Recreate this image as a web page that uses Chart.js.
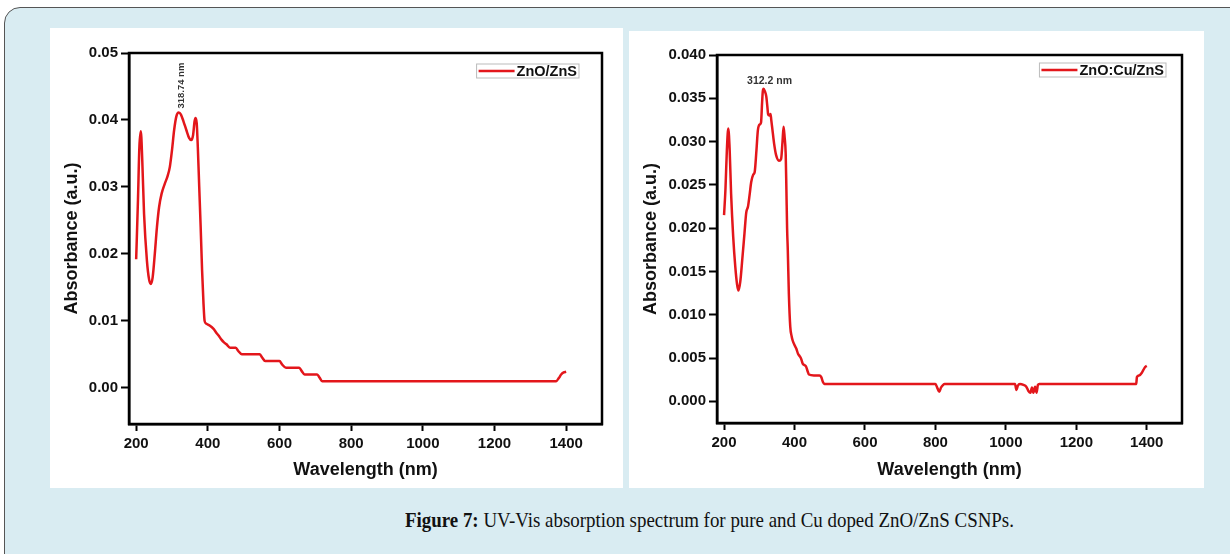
<!DOCTYPE html>
<html>
<head>
<meta charset="utf-8">
<script src="https://cdn.jsdelivr.net/npm/chart.js@4.4.1/dist/chart.umd.min.js"></script>
<style>
  body { margin: 0; width: 1230px; height: 554px; background: #fff; overflow: hidden; position: relative; }
  .frame { position: absolute; left: 4px; top: 7px; width: 1300px; height: 600px; background: #d9ecf2;
           border: 1.5px solid #555; border-radius: 16px; }
  .panel { position: absolute; background: #fff; }
  .caption { position: absolute; left: 405px; top: 508px; white-space: nowrap;
             font-family: "Liberation Serif", "DejaVu Serif", serif; font-size: 21px; color: #111;
             transform: scaleX(0.9); transform-origin: left center; }
</style>
</head>
<body>
<div class="frame"></div>
<div class="panel" style="left:50px;top:28px;width:573px;height:460px"><canvas id="chartA" width="573" height="460"></canvas></div>
<div class="panel" style="left:629px;top:31px;width:575px;height:457px"><canvas id="chartB" width="575" height="457"></canvas></div>
<div class="caption"><b>Figure 7:</b> UV-Vis absorption spectrum for pure and Cu doped ZnO/ZnS CSNPs.</div>
<script>
// ZnO/ZnS
var wavelengthA = [200, 205, 209, 213, 217, 222, 230, 236, 241, 246, 252, 258, 264, 271, 280, 287, 294, 300, 306, 312, 318.74, 325, 332, 340, 348, 354, 359, 363, 366, 369, 372, 376, 380, 384, 388, 391, 395, 405, 416, 424, 430, 438, 445, 452, 462, 478, 485, 495, 545, 552, 560, 600, 607, 618, 655, 662, 670, 705, 712, 719, 1372, 1380, 1386, 1393, 1400];
var absorbA = [0.0192, 0.0280, 0.0360, 0.0383, 0.0340, 0.0260, 0.0190, 0.0162, 0.0155, 0.0165, 0.0200, 0.0240, 0.0270, 0.0290, 0.0305, 0.0315, 0.0330, 0.0355, 0.0385, 0.0405, 0.0411, 0.0408, 0.0398, 0.0385, 0.0373, 0.0370, 0.0378, 0.0398, 0.0403, 0.0395, 0.0360, 0.0300, 0.0240, 0.0175, 0.0125, 0.0100, 0.0096, 0.0093, 0.0088, 0.0082, 0.0078, 0.0072, 0.0068, 0.0065, 0.0060, 0.0060, 0.0055, 0.0050, 0.0050, 0.0045, 0.0040, 0.0040, 0.0035, 0.0030, 0.0030, 0.0025, 0.0020, 0.0020, 0.0015, 0.0010, 0.0010, 0.0015, 0.0020, 0.0023, 0.0024];

// ZnO:Cu/ZnS
var wavelengthB = [200, 204, 208, 212, 216, 220, 226, 232, 237, 241, 246, 252, 258, 263, 268, 273, 277, 283, 287, 292, 296, 302, 305, 308, 310, 312.2, 316, 320, 323, 325, 328, 332, 334, 337, 342, 348, 356, 362, 366, 369, 372, 375, 377, 379, 381, 384, 388, 392, 395, 400, 405, 410, 415, 419, 424, 428, 433, 437, 441, 455, 471, 476, 481, 485, 800, 806, 811, 816, 822, 826, 1026, 1030, 1034, 1040, 1050, 1058, 1064, 1070, 1074, 1078, 1083, 1087, 1091, 1095, 1370, 1372, 1379, 1386, 1390, 1396, 1400];
var absorbB = [0.0215, 0.0245, 0.0290, 0.0315, 0.0290, 0.0240, 0.0190, 0.0155, 0.0135, 0.0128, 0.0138, 0.0165, 0.0194, 0.0218, 0.0225, 0.0240, 0.0253, 0.0262, 0.0265, 0.0290, 0.0313, 0.0320, 0.0322, 0.0345, 0.0358, 0.0361, 0.0358, 0.0352, 0.0340, 0.0332, 0.0330, 0.0332, 0.0325, 0.0315, 0.0298, 0.0284, 0.0278, 0.0280, 0.0300, 0.0317, 0.0305, 0.0286, 0.0245, 0.0200, 0.0174, 0.0124, 0.0086, 0.0075, 0.0070, 0.0065, 0.0061, 0.0055, 0.0052, 0.0049, 0.0043, 0.0042, 0.0040, 0.0035, 0.0031, 0.0030, 0.0030, 0.0028, 0.0022, 0.0020, 0.0020, 0.0015, 0.0011, 0.0016, 0.0019, 0.0020, 0.0020, 0.0013, 0.0018, 0.0020, 0.0019, 0.0017, 0.0012, 0.0010, 0.0016, 0.0010, 0.0017, 0.0010, 0.0019, 0.0020, 0.0020, 0.0028, 0.0030, 0.0033, 0.0036, 0.0040, 0.0041];

var xTicks = [200, 400, 600, 800, 1000, 1200, 1400];
var yTicksA = [0, 0.01, 0.02, 0.03, 0.04, 0.05];
var yLabelsA = ['0.00', '0.01', '0.02', '0.03', '0.04', '0.05'];
var yTicksB = [0, 0.005, 0.010, 0.015, 0.020, 0.025, 0.030, 0.035, 0.040];
var yLabelsB = ['0.000', '0.005', '0.010', '0.015', '0.020', '0.025', '0.030', '0.035', '0.040'];

var FONT = 'Liberation Sans, Arial, sans-serif';
var RED = '#e3161b';

// box around plot area + legend with a frame + peak label
var framePlugin = {
    id: 'frame',
    afterDraw: function(chart, args, opts) {
        var ctx = chart.ctx, a = chart.chartArea;
        ctx.save();
        ctx.strokeStyle = '#000';
        ctx.lineWidth = 2.5;
        ctx.strokeRect(a.left, a.top, a.right - a.left, a.bottom - a.top);

        // legend
        var ds = chart.data.datasets[0];
        ctx.font = 'bold 14.5px ' + FONT;
        var tw = ctx.measureText(ds.label).width;
        var w = 2 + 36 + 2 + tw + 2, h = 14;
        var x0 = a.right - opts.legendRight - w, y0 = a.top + opts.legendTop;
        ctx.fillStyle = '#fff';
        ctx.fillRect(x0, y0, w, h);
        ctx.strokeStyle = '#bbb';
        ctx.lineWidth = 1;
        ctx.strokeRect(x0, y0, w, h);
        ctx.strokeStyle = ds.borderColor;
        ctx.lineWidth = 2.5;
        ctx.beginPath();
        ctx.moveTo(x0 + 2, y0 + h / 2);
        ctx.lineTo(x0 + 38, y0 + h / 2);
        ctx.stroke();
        ctx.fillStyle = '#111';
        ctx.textBaseline = 'middle';
        ctx.fillText(ds.label, x0 + 40, y0 + h / 2 + 0.5);

        // peak label
        var px = chart.scales.x.getPixelForValue(opts.peakX);
        var py = chart.scales.y.getPixelForValue(opts.peakY);
        ctx.fillStyle = '#333';
        if (opts.vertical) {
            ctx.font = 'bold 9.5px ' + FONT;
            ctx.translate(px + 3, py - 4);
            ctx.rotate(-Math.PI / 2);
            ctx.textAlign = 'left';
            ctx.textBaseline = 'middle';
            ctx.fillText(opts.peakText, 0, 0);
        } else {
            ctx.font = 'bold 10.5px ' + FONT;
            ctx.textAlign = 'center';
            ctx.textBaseline = 'bottom';
            ctx.fillText(opts.peakText, px + 6, py - 2);
        }
        ctx.restore();
    }
};

function makeChart(id, label, xs, ys, yMin, yMax, yTicks, yLabels, axisW, pad, frameOpts) {
    var points = xs.map(function(x, i) { return {x: x, y: ys[i]}; });
    return new Chart(document.getElementById(id).getContext('2d'), {
        type: 'line',
        data: {
            datasets: [{
                label: label,
                data: points,
                borderColor: RED,
                borderWidth: 2.5,
                pointRadius: 0,
                cubicInterpolationMode: 'monotone',
                fill: false
            }]
        },
        options: {
            responsive: false,
            animation: false,
            devicePixelRatio: 1,
            layout: { padding: pad },
            plugins: {
                legend: { display: false },
                tooltip: { enabled: false },
                frame: frameOpts
            },
            scales: {
                x: {
                    type: 'linear',
                    min: 180,
                    max: 1500,
                    afterBuildTicks: function(s) { s.ticks = xTicks.map(function(v) { return {value: v}; }); },
                    afterFit: function(s) { s.height = pad.xAxisH; },
                    ticks: { font: { family: FONT, size: 15, weight: 'bold' }, color: '#111', padding: 4, maxRotation: 0,
                             callback: function(v) { return String(v); } },
                    grid: { drawOnChartArea: false, tickLength: 7, tickWidth: 2, tickColor: '#000' },
                    border: { color: '#000', width: 2.5 },
                    title: { display: true, text: 'Wavelength (nm)', color: '#111',
                             font: { family: FONT, size: 18, weight: 'bold' }, padding: { top: 0, bottom: 7 } }
                },
                y: {
                    min: yMin,
                    max: yMax,
                    afterBuildTicks: function(s) { s.ticks = yTicks.map(function(v) { return {value: v}; }); },
                    afterFit: function(s) { s.width = axisW; },
                    ticks: { font: { family: FONT, size: 15, weight: 'bold' }, color: '#111', padding: 3,
                             callback: function(v, i) { return yLabels[i]; } },
                    grid: { drawOnChartArea: false, tickLength: 8, tickWidth: 2, tickColor: '#000' },
                    border: { color: '#000', width: 2.5 },
                    title: { display: true, text: 'Absorbance (a.u.)', color: '#111',
                             font: { family: FONT, size: 18, weight: 'bold' }, padding: { top: 11, bottom: 0 } }
                }
            }
        },
        plugins: [framePlugin]
    });
}

makeChart('chartA', 'ZnO/ZnS', wavelengthA, absorbA, -0.0054, 0.05, yTicksA, yLabelsA, 79,
    { left: 0, right: 21, top: 25, bottom: 0, xAxisH: 64 },
    { legendRight: 23, legendTop: 11, peakX: 318.74, peakY: 0.0411, peakText: '318.74 nm', vertical: true });

makeChart('chartB', 'ZnO:Cu/ZnS', wavelengthB, absorbB, -0.0025, 0.040, yTicksB, yLabelsB, 88,
    { left: 0, right: 22, top: 24, bottom: 0, xAxisH: 65 },
    { legendRight: 16, legendTop: 8, peakX: 312.2, peakY: 0.0361, peakText: '312.2 nm', vertical: false });
</script>
</body>
</html>
